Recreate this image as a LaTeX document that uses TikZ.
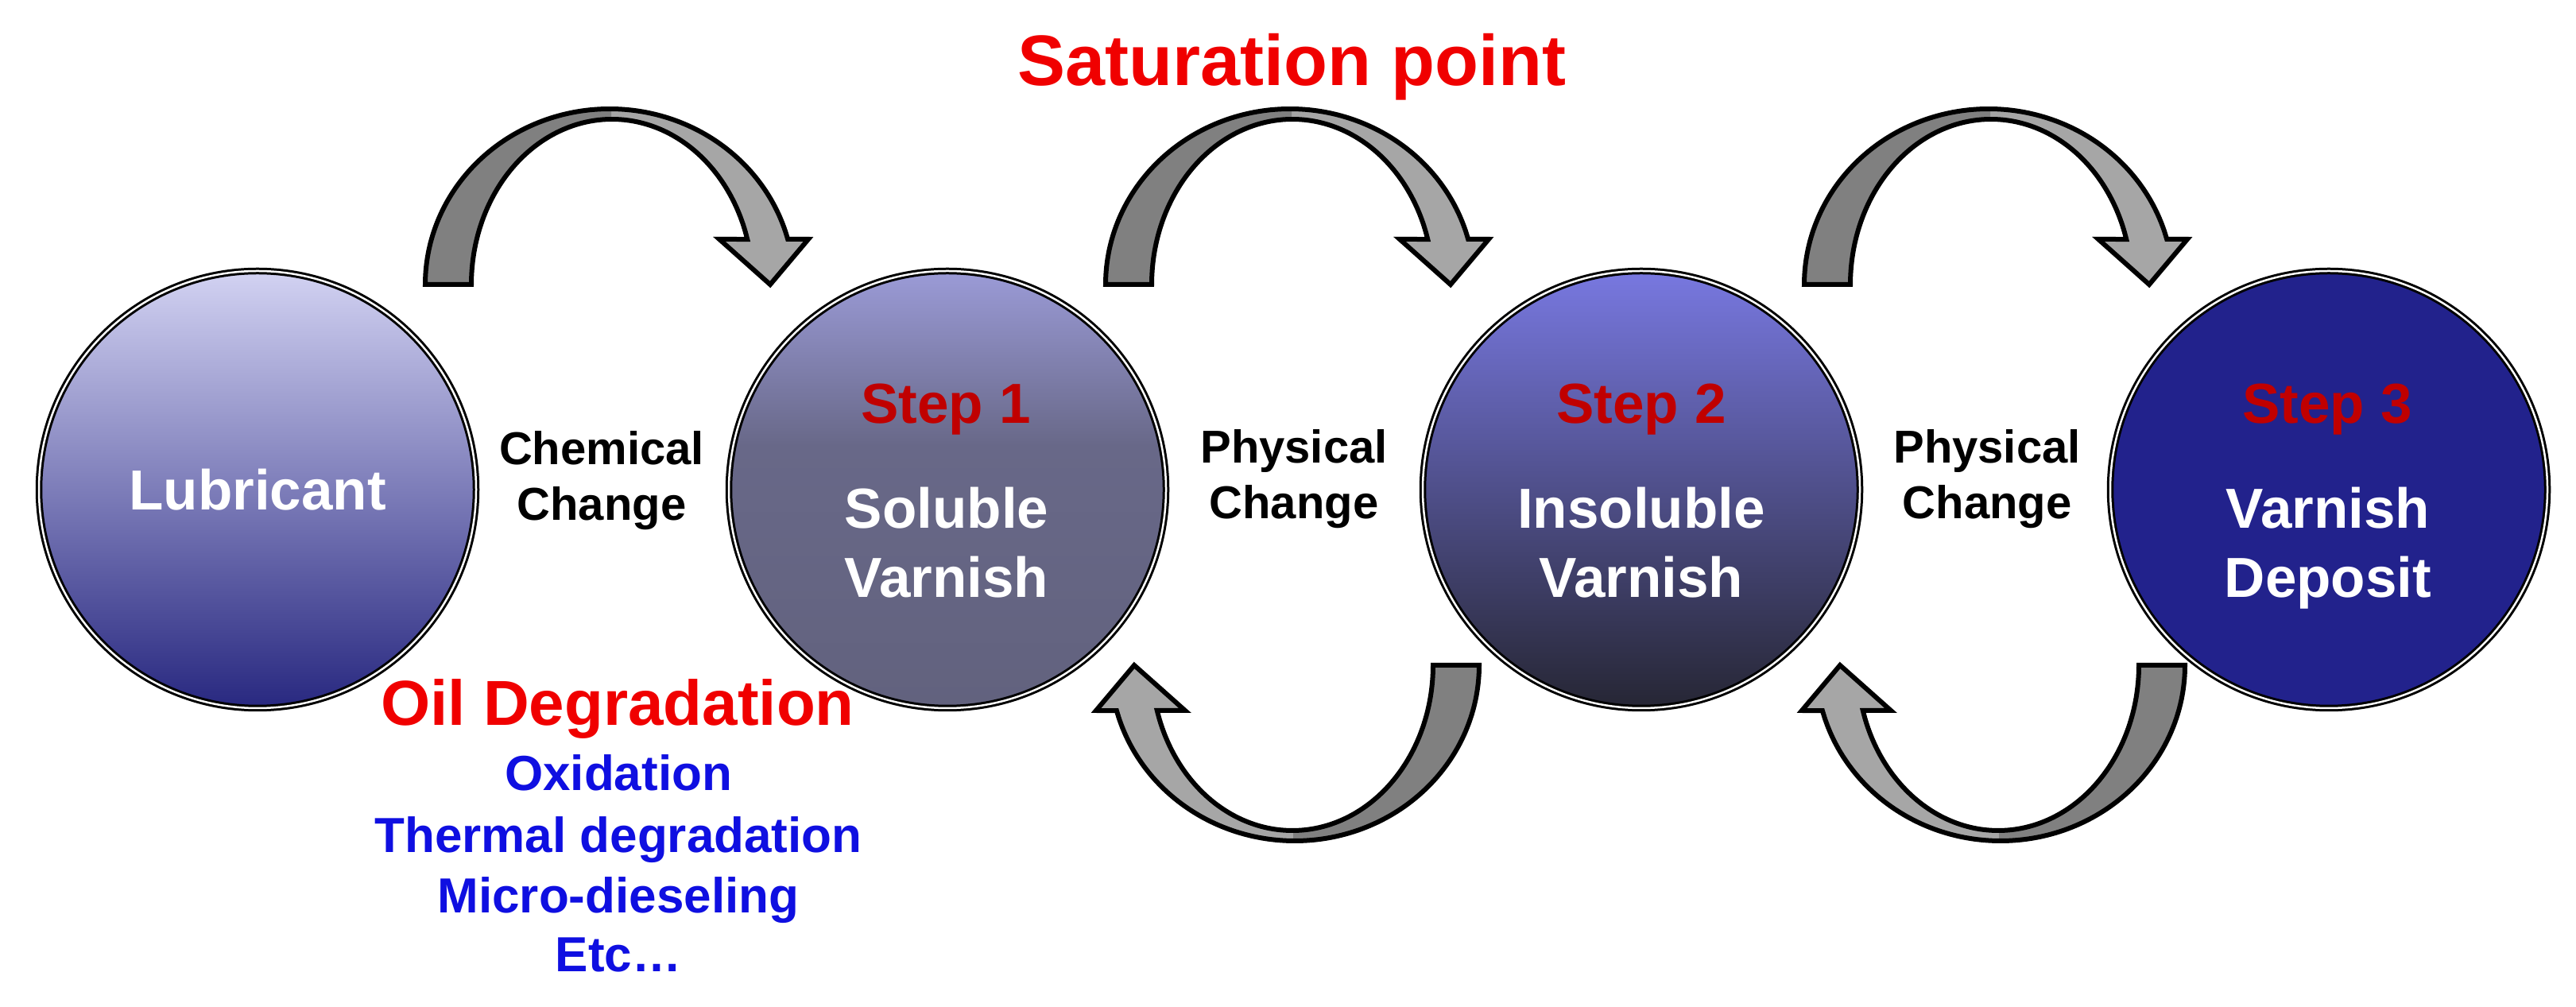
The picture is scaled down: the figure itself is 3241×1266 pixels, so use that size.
\documentclass[tikz,border=0pt]{standalone}
\usepackage{fontspec}
\setmainfont{Liberation Sans}
\definecolor{stepred}{RGB}{192,0,0}
\definecolor{brightred}{RGB}{240,0,0}
\definecolor{degblue}{RGB}{15,15,225}
\definecolor{arrowlight}{RGB}{166,166,166}
\definecolor{arrowdark}{RGB}{128,128,128}
\definecolor{lubtop}{RGB}{210,210,242}
\definecolor{lubmid}{RGB}{140,140,200}
\definecolor{lubbot}{RGB}{40,40,128}
\definecolor{sAtop}{RGB}{155,155,215}
\definecolor{sAmid}{RGB}{104,104,136}
\definecolor{sAbot}{RGB}{98,98,126}
\definecolor{sBtop}{RGB}{120,120,224}
\definecolor{sBmid}{RGB}{88,88,172}
\definecolor{sBbot}{RGB}{38,38,52}
\definecolor{sCfill}{RGB}{34,34,140}
\pgfdeclareverticalshading{stepAshade}{100bp}{color(0bp)=(sAbot); color(25bp)=(sAbot); color(55bp)=(sAmid); color(75bp)=(sAtop); color(100bp)=(sAtop)}
\newcommand\fsz[1]{\fontsize{#1}{#1}\selectfont}
\tikzset{
  lbl/.style={font=\bfseries\fsz{58}, text=black, anchor=base, inner sep=0pt},
  intxt/.style={font=\bfseries\fsz{71}, text=white, anchor=base, inner sep=0pt},
  steptxt/.style={font=\bfseries\fsz{71}, text=stepred, anchor=base, inner sep=0pt},
  bluetxt/.style={font=\bfseries\fsz{62}, text=degblue, anchor=base, inner sep=0pt},
  redtitle/.style={font=\bfseries\fsz{#1}, text=brightred, anchor=base, inner sep=0pt},
  ball/.style={circle, minimum size=550pt, inner sep=0pt, draw=black, double=white, double distance=2.5pt, line width=3pt},
  arrowpath/.style={insert path={plot[domain=180:15, samples=60, smooth] ({203+232*cos(\x)},{221*sin(\x)}) -- (453,57) -- (405,0) -- (341,57) -- plot[domain=15.9:180, samples=60, smooth] ({206+177*cos(\x)},{208*sin(\x)}) -- cycle}},
  curvedarrow/.pic={
    \fill[arrowlight, arrowpath];
    \begin{scope}
      \clip (-60,-10) rectangle (205,260);
      \fill[arrowdark, arrowpath];
    \end{scope}
    \draw[line width=6pt, line join=miter, arrowpath];
  }
}
\begin{document}
\begin{tikzpicture}[x=1pt,y=1pt]
\useasboundingbox (0,0) rectangle (3241,1266);
\fill[white] (0,0) rectangle (3241,1266);

% circles
\node[ball, top color=lubtop, middle color=lubmid, bottom color=lubbot] (lub) at (324,650) {};
\node[ball, shade, shading=stepAshade] (st1) at (1192,650) {};
\node[ball, top color=sBtop, middle color=sBmid, bottom color=sBbot] (st2) at (2065,650) {};
\node[ball, fill=sCfill] (st3) at (2930,650) {};

% circle texts
\node[intxt] (lubtxt) at (324,624) {Lubricant};
\node[steptxt] (s1a) at (1190,733) {Step 1};
\node[intxt] (s1b) at (1191,601) {Soluble};
\node[intxt] (s1c) at (1191,514) {Varnish};
\node[steptxt] (s2a) at (2065,733) {Step 2};
\node[intxt] (s2b) at (2065,601) {Insoluble};
\node[intxt] (s2c) at (2065,514) {Varnish};
\node[steptxt] (s3a) at (2928,733) {Step 3};
\node[intxt] (s3b) at (2929,601) {Varnish};
\node[intxt] (s3c) at (2929,514) {Deposit};

% labels between
\node[lbl] (ch1) at (757,681) {Chemical};
\node[lbl] (ch2) at (757,611) {Change};
\node[lbl] (ph1a) at (1628,683) {Physical};
\node[lbl] (ph1b) at (1628,613) {Change};
\node[lbl] (ph2a) at (2500,683) {Physical};
\node[lbl] (ph2b) at (2500,613) {Change};

% titles
\node[redtitle=90] (sat) at (1625,1158) {Saturation point};
\node[redtitle=80] (oil) at (777,353) {Oil Degradation};
\node[bluetxt] (ox) at (778,271) {Oxidation};
\node[bluetxt] (th) at (778,193) {Thermal degradation};
\node[bluetxt] (mi) at (778,117) {Micro-dieseling};
\node[bluetxt] (etc) at (778,43) {Etc\ldots};

% curved arrows
\coordinate (a1) at (564,908);
\coordinate (a2) at (1420,908);
\coordinate (a3) at (2299,908);
\coordinate (b1) at (1832,429);
\coordinate (b2) at (2720,429);
\pic (arrA) at (a1) {curvedarrow};
\pic (arrB) at (a2) {curvedarrow};
\pic (arrC) at (a3) {curvedarrow};
\pic[rotate=180] (arrD) at (b1) {curvedarrow};
\pic[rotate=180] (arrE) at (b2) {curvedarrow};
\end{tikzpicture}
\end{document}
